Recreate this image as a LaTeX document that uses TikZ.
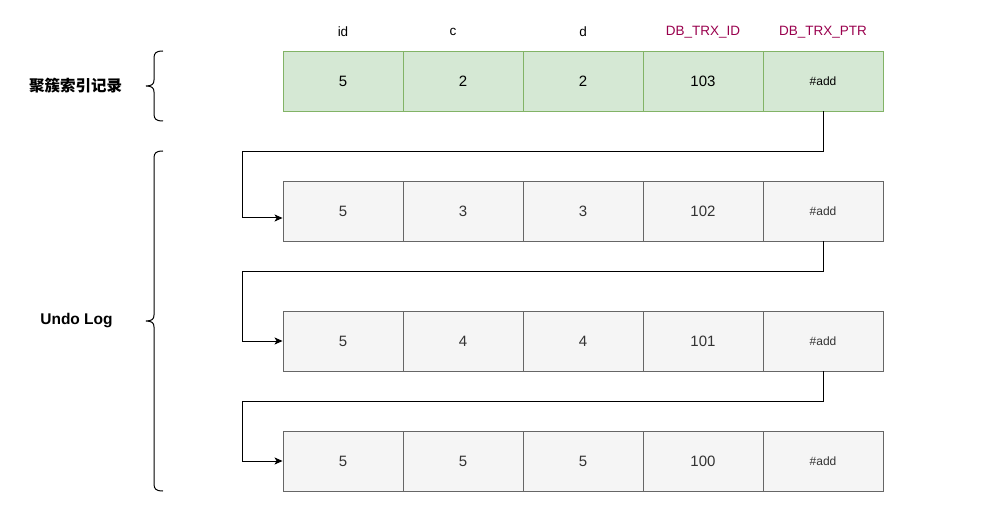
\documentclass[tikz,border=0pt]{standalone}
\usepackage{fontspec}
\setmainfont{Liberation Sans}
\newfontfamily\cjk{Noto Sans CJK SC}
\usetikzlibrary{arrows.meta,positioning,calc}
\definecolor{rowgreen}{HTML}{D5E8D4}
\definecolor{rowgreenline}{HTML}{82B366}
\definecolor{rowgray}{HTML}{F5F5F5}
\definecolor{rowgrayline}{HTML}{666666}
\definecolor{rowink}{HTML}{333333}
\definecolor{keyred}{HTML}{99004D}
\tikzset{
  cell/.style={minimum width=120pt, minimum height=60pt, inner sep=0pt, line width=0.9pt, font=\fontsize{15}{18}\selectfont},
  cur/.style={cell, draw=rowgreenline, fill=rowgreen},
  old/.style={cell, draw=rowgrayline, fill=rowgray, text=rowink},
  ptr/.style={font=\fontsize{12}{14}\selectfont},
  hdr/.style={font=\fontsize{13.5}{16}\selectfont},
  key/.style={hdr, text=keyred},
  side/.style={font=\fontsize{15.5}{18}\selectfont\bfseries},
  arr/.style={-{Stealth[length=8pt, width=7pt, inset=2pt]}, line width=1pt},
  brc/.style={line width=1pt},
}
\begin{document}
\begin{tikzpicture}[x=1pt, y=-1pt]
    \useasboundingbox (0,0) rectangle (987,518);
    % column heads
    \node[hdr] (hId) at (343,32) {id};
    \node[hdr] (hC) at (453,32) {c};
    \node[hdr] (hD) at (583,32) {d};
    \node[key] (hTrx) at (703,32) {DB\_TRX\_ID};
    \node[key] (hPtr) at (823,32) {DB\_TRX\_PTR};
    % clustered index record
    \node[cur] (r0c1) at (343,81) {5};
    \node[cur] (r0c2) at (463,81) {2};
    \node[cur] (r0c3) at (583,81) {2};
    \node[cur] (r0c4) at (703,81) {103};
    \node[cur, ptr] (r0c5) at (823,81) {\#add};
    % undo log versions
    \node[old] (r1c1) at (343,211) {5};
    \node[old] (r1c2) at (463,211) {3};
    \node[old] (r1c3) at (583,211) {3};
    \node[old] (r1c4) at (703,211) {102};
    \node[old, ptr] (r1c5) at (823,211) {\#add};
    \node[old] (r2c1) at (343,341) {5};
    \node[old] (r2c2) at (463,341) {4};
    \node[old] (r2c3) at (583,341) {4};
    \node[old] (r2c4) at (703,341) {101};
    \node[old, ptr] (r2c5) at (823,341) {\#add};
    \node[old] (r3c1) at (343,461) {5};
    \node[old] (r3c2) at (463,461) {5};
    \node[old] (r3c3) at (583,461) {5};
    \node[old] (r3c4) at (703,461) {100};
    \node[old, ptr] (r3c5) at (823,461) {\#add};
    % version chain
    \draw[arr] (r0c5.south) -- ++(0,40) -| ($(r1c1.west)+(-40,7)$) -- ($(r1c1.west)+(0,7)$);
    \draw[arr] (r1c5.south) -- ++(0,30) -| ($(r2c1.west)+(-40,0)$) -- (r2c1.west);
    \draw[arr] (r2c5.south) -- ++(0,30) -| ($(r3c1.west)+(-40,0)$) -- (r3c1.west);
    % side labels and braces
    \node[side] (lIdx) at (75.5,86) {\cjk 聚簇索引记录};
    \node[side] (lUndo) at (76.5,321) {Undo Log};
    \draw[brc] (163,51) .. controls (156,51) and (154,53) .. (154,58) -- (154,80) .. controls (154,84) and (152,86) .. (146,86) .. controls (152,86) and (154,88) .. (154,92) -- (154,114) .. controls (154,119) and (156,121) .. (163,121);
    \draw[brc] (163,151) .. controls (156,151) and (154,153) .. (154,158) -- (154,315) .. controls (154,319) and (152,321) .. (146,321) .. controls (152,321) and (154,323) .. (154,327) -- (154,484) .. controls (154,489) and (156,491) .. (163,491);
\end{tikzpicture}
\end{document}
